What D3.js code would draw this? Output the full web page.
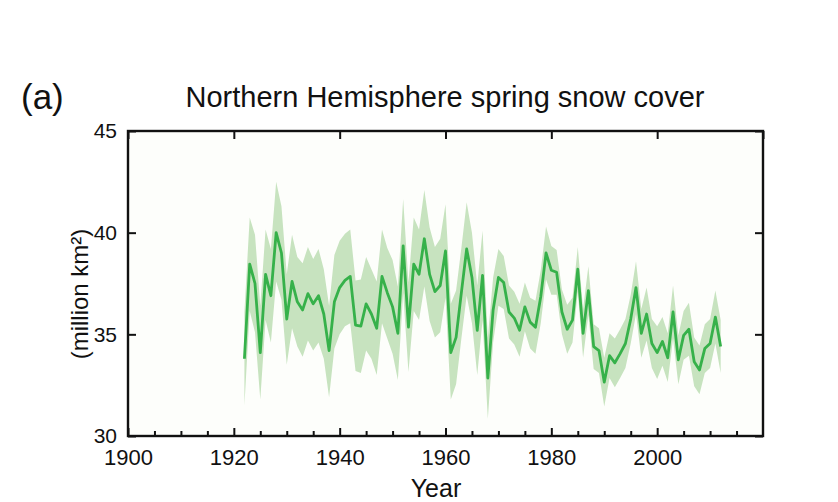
<!DOCTYPE html>
<html>
<head>
<meta charset="utf-8">
<script src="https://cdn.jsdelivr.net/npm/d3@7"></script>
<style>
  html, body { margin: 0; padding: 0; background: #ffffff; }
  svg { display: block; font-family: "Liberation Sans", Arial, sans-serif; }
</style>
</head>
<body>
<svg id="chart" width="838" height="502"></svg>
<script>
// ---- data ----
const startYear = 1922;
const meanCover = [33.8,38.45,37.5,34.1,37.95,36.9,40.0,39.0,35.75,37.6,36.6,36.2,37.0,36.5,36.9,36.0,34.2,36.6,37.3,37.65,
  37.85,35.45,35.4,36.5,36.0,35.3,37.85,37.05,36.35,35.05,39.35,35.35,38.45,37.95,39.7,37.95,37.1,37.4,39.1,34.1,
  34.85,37.05,39.2,37.8,35.2,37.9,32.85,36.2,37.8,37.55,36.1,35.8,35.2,36.35,35.6,35.35,36.85,39.0,38.15,38.05,
  36.1,35.25,35.7,38.2,35.05,37.15,34.4,34.2,32.65,33.95,33.6,34.05,34.55,35.75,37.3,35.05,36.0,34.55,34.1,34.65,
  33.85,36.1,33.75,34.95,35.25,33.65,33.25,34.3,34.55,35.85,34.4];
const upperCover = [36.1,40.75,39.9,36.4,40.15,39.2,42.5,41.3,37.95,39.9,38.8,38.5,39.3,38.7,39.2,38.2,36.4,38.9,39.6,39.95,
  40.15,37.65,37.7,38.8,38.2,37.6,40.15,39.25,38.65,37.35,41.65,37.55,40.75,40.15,42.1,40.25,39.3,39.7,41.4,36.5,
  37.15,39.25,41.5,40.0,37.4,40.1,34.85,37.8,39.2,38.85,37.4,37.1,36.5,37.55,36.8,36.65,38.15,40.3,39.35,39.15,
  37.2,36.45,36.8,39.3,36.25,38.35,35.5,35.3,33.85,35.05,34.8,35.25,35.75,36.95,38.6,36.25,37.3,35.75,35.4,35.85,
  35.05,37.4,34.95,36.15,36.55,34.85,34.45,35.5,35.75,37.15,35.7];
const lowerCover = [31.5,36.15,35.1,31.8,35.7,34.6,37.6,36.7,33.5,35.3,34.4,33.9,34.7,34.2,34.6,33.8,31.9,34.3,35.0,35.4,
  35.55,33.2,33.1,34.2,33.8,33.0,35.55,34.8,34.05,32.75,37.05,33.15,36.15,35.7,37.35,35.65,34.85,35.1,36.8,31.8,
  32.55,34.8,36.9,35.55,33.0,35.7,30.85,34.6,36.4,36.25,34.8,34.5,33.9,35.15,34.3,34.05,35.55,37.7,36.95,36.95,
  35.0,34.05,34.6,37.1,33.85,35.95,33.3,33.1,31.45,32.85,32.4,32.85,33.35,34.55,36.0,33.85,34.7,33.35,32.8,33.45,
  32.65,34.8,32.55,33.75,33.95,32.45,32.05,33.1,33.35,34.55,33.1];
const years = meanCover.map((_, i) => startYear + i);
const xTicksMajor = [1900, 1920, 1940, 1960, 1980, 2000];
const yTicks = [30, 35, 40, 45];
const titleText = "Northern Hemisphere spring snow cover";
const panelLabel = "(a)";
const xLabel = "Year";
const yLabel = "(million km²)";

(function () {
// ---- layout ----
const svg = d3.select("#chart");
const L = 128, R = 763, T = 131, B = 436;
const x = d3.scaleLinear().domain([1900, 2020]).range([L, R]);
const y = d3.scaleLinear().domain([30, 45]).range([B, T]);

svg.append("rect").attr("x", L).attr("y", T).attr("width", R - L).attr("height", B - T)
  .attr("fill", "#fdfefb");

const rows = years.map((yr, i) => ({ yr, m: meanCover[i], hi: upperCover[i], lo: lowerCover[i] }));

svg.append("path").datum(rows)
  .attr("fill", "#c7e3bf")
  .attr("d", d3.area().x(d => x(d.yr)).y0(d => y(d.lo)).y1(d => y(d.hi)));

svg.append("path").datum(rows)
  .attr("fill", "none").attr("stroke", "#36b14a").attr("stroke-width", 2.8)
  .attr("stroke-linejoin", "round")
  .attr("d", d3.line().x(d => x(d.yr)).y(d => y(d.m)));

// ---- axes (ticks inward) ----
const minorX = d3.range(1905, 2020, 5).filter(v => v % 20 !== 0);
const gBottom = svg.append("g").attr("transform", `translate(0,${B})`)
  .call(d3.axisBottom(x).tickValues(xTicksMajor).tickSize(-8).tickPadding(13).tickFormat(d3.format("d")));
gBottom.selectAll("text").attr("font-size", 22).attr("fill", "#111");
gBottom.select(".domain").remove();
svg.append("g").attr("transform", `translate(0,${B})`)
  .call(d3.axisBottom(x).tickValues(minorX).tickSize(-5).tickFormat(""))
  .select(".domain").remove();

const gTop = svg.append("g").attr("transform", `translate(0,${T})`)
  .call(d3.axisTop(x).tickValues(xTicksMajor.concat([2020])).tickSize(-8).tickFormat(""));
gTop.select(".domain").remove();

const gLeft = svg.append("g").attr("transform", `translate(${L},0)`)
  .call(d3.axisLeft(y).tickValues(yTicks).tickSize(-8).tickPadding(11).tickFormat(d3.format("d")));
gLeft.selectAll("text").attr("font-size", 21).attr("fill", "#111");
gLeft.select(".domain").remove();

const gRight = svg.append("g").attr("transform", `translate(${R},0)`)
  .call(d3.axisRight(y).tickValues(yTicks).tickSize(-8).tickFormat(""));
gRight.select(".domain").remove();

svg.selectAll(".tick line").attr("stroke", "#111").attr("stroke-width", 2);

// frame
svg.append("rect").attr("x", L).attr("y", T).attr("width", R - L).attr("height", B - T)
  .attr("fill", "none").attr("stroke", "#111").attr("stroke-width", 2.4);

// ---- texts ----
svg.append("text").attr("x", 445).attr("y", 107).attr("text-anchor", "middle")
  .attr("font-size", 29).attr("fill", "#111").text(titleText);
svg.append("text").attr("x", 21).attr("y", 109)
  .attr("font-size", 35).attr("fill", "#111").text(panelLabel);
svg.append("text").attr("x", 436).attr("y", 497).attr("text-anchor", "middle")
  .attr("font-size", 25).attr("fill", "#111").text(xLabel);
svg.append("text").attr("transform", "translate(88,294) rotate(-90)").attr("text-anchor", "middle")
  .attr("font-size", 24).attr("fill", "#111").text(yLabel);
})();
</script>
</body>
</html>
